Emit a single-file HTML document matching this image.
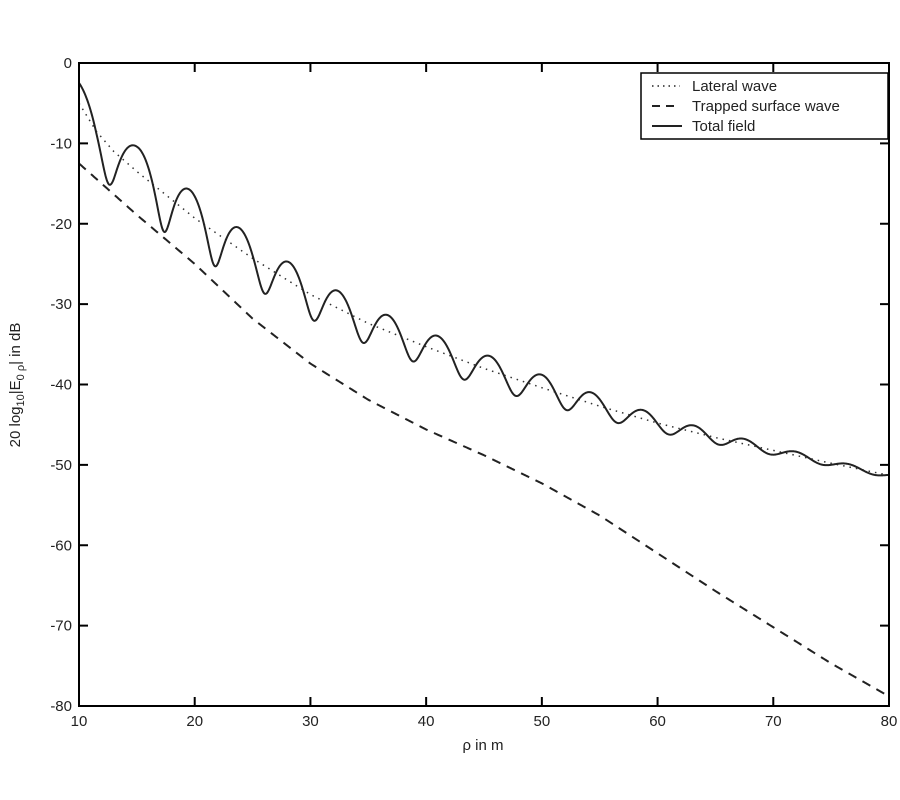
<!DOCTYPE html>
<html><head><meta charset="utf-8"><style>
html,body{margin:0;padding:0;background:#fff;}
svg{display:block;font-family:"Liberation Sans",Arial,sans-serif;}
</style></head><body>
<svg id="s" width="900" height="800" viewBox="0 0 900 800">
<rect x="0" y="0" width="900" height="800" fill="#fff"/>
<g id="curves"></g>
<rect x="79" y="63" width="810" height="643" fill="none" stroke="#000" stroke-width="2"/>
<g id="ticks" stroke="#000" stroke-width="2"></g>
<g id="labels" font-size="15" fill="#222"></g>
<text x="483" y="750" font-size="15" text-anchor="middle" fill="#222">ρ in m</text>
<text transform="translate(20,385) rotate(-90)" font-size="15" text-anchor="middle" fill="#222">20 log<tspan font-size="11" dy="4">10</tspan><tspan dy="-4">|E</tspan><tspan font-size="11" dy="4">0 ρ</tspan><tspan dy="-4">| in dB</tspan></text>
<rect x="641" y="73" width="247" height="66" fill="#fff" stroke="#000" stroke-width="1.5"/>
<line x1="652" y1="86" x2="680" y2="86" stroke="#222" stroke-width="1.5" stroke-dasharray="1.5,4"/>
<line x1="652" y1="106" x2="680" y2="106" stroke="#222" stroke-width="2" stroke-dasharray="8,6"/>
<line x1="652" y1="126" x2="682" y2="126" stroke="#222" stroke-width="2"/>
<text x="692" y="91" font-size="15" fill="#222">Lateral wave</text>
<text x="692" y="111" font-size="15" fill="#222">Trapped surface wave</text>
<text x="692" y="131" font-size="15" fill="#222">Total field</text>
</svg>
<script>
var X0=79,X1=889,Y0=63,Y1=706;
function px(x){return X0+(x-10)*(X1-X0)/70;}
function py(v){return Y0+(-v)*(Y1-Y0)/80;}
function interp(pts,x){for(var i=0;i<pts.length-1;i++){if(x<=pts[i+1][0]){var t=(x-pts[i][0])/(pts[i+1][0]-pts[i][0]);return pts[i][1]+t*(pts[i+1][1]-pts[i][1]);}}var n=pts.length;var t=(x-pts[n-2][0])/(pts[n-1][0]-pts[n-2][0]);return pts[n-2][1]+t*(pts[n-1][1]-pts[n-2][1]);}
var L=[[10,-5],[11.5,-8.5],[13,-11],[15,-13.5],[20,-19.3],[25,-24.3],[30,-28.8],[35,-32.4],[40,-35.3],[45,-38],[50,-40.4],[55,-42.7],[60,-44.8],[65,-46.6],[70,-48.2],[75,-49.8],[80,-51.3]];
var S=[[10,-12.5],[15,-18.9],[20,-25],[25,-31.8],[30,-37.4],[35,-41.9],[40,-45.6],[45,-48.8],[50,-52.3],[55,-56.3],[60,-61],[65,-65.7],[70,-70.2],[75,-74.7],[80,-78.8]];
var PK=[10,15.1,19.6,23.9,28.2,32.4,36.7,41,45.5,50,54.3,58.8,63.2,67.5,72,76.5,81];
var PH=PK.map(function(x,i){return [x,i];});
var ns="http://www.w3.org/2000/svg";
function path(f,attrs){var d="";for(var i=0;i<=1400;i++){var x=10+70*i/1400;d+=(i?"L":"M")+px(x).toFixed(2)+","+py(f(x)).toFixed(2);}var p=document.createElementNS(ns,"path");p.setAttribute("d",d);p.setAttribute("fill","none");for(var k in attrs)p.setAttribute(k,attrs[k]);document.getElementById("curves").appendChild(p);}
path(function(x){return interp(L,x);},{stroke:"#333","stroke-width":"1.5","stroke-dasharray":"1.5,5"});
path(function(x){return interp(S,x);},{stroke:"#222","stroke-width":"2","stroke-dasharray":"9,7"});
path(function(x){var a=Math.pow(10,interp(L,x)/20),b=0.8*Math.pow(10,interp(S,x)/20);var ph=2*Math.PI*interp(PH,x);var re=a+b*Math.cos(ph),im=b*Math.sin(ph);return 20*Math.log10(Math.sqrt(re*re+im*im));},{stroke:"#222","stroke-width":"2"});
var tg=document.getElementById("ticks"),lg=document.getElementById("labels");
function ln(a,b,c,d){var l=document.createElementNS(ns,"line");l.setAttribute("x1",a);l.setAttribute("y1",b);l.setAttribute("x2",c);l.setAttribute("y2",d);tg.appendChild(l);}
function tx(x,y,s,anc){var t=document.createElementNS(ns,"text");t.setAttribute("x",x);t.setAttribute("y",y);t.setAttribute("text-anchor",anc);t.textContent=s;lg.appendChild(t);}
for(var x=10;x<=80;x+=10){var p=px(x);if(x>10&&x<80){ln(p,Y1,p,Y1-9);ln(p,Y0,p,Y0+9);}tx(p,726,String(x),"middle");}
for(var v=0;v>=-80;v-=10){var q=py(v);if(v<0&&v>-80){ln(X0,q,X0+9,q);ln(X1,q,X1-9,q);}tx(72,q+5,String(v),"end");}
</script>
</body></html>
